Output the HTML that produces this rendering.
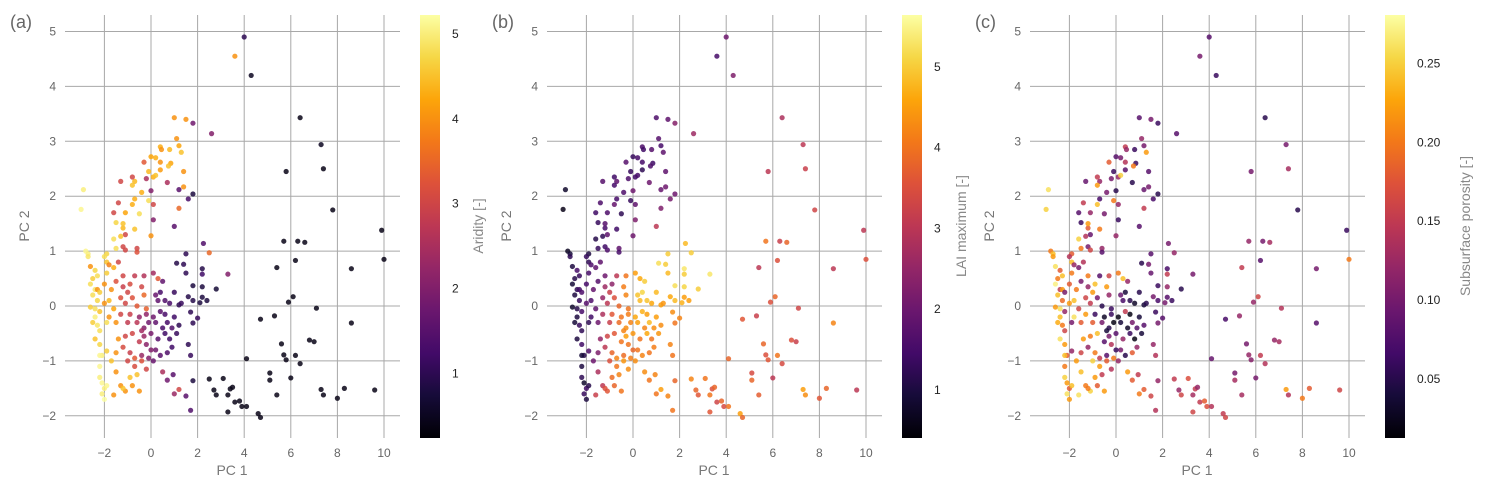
<!DOCTYPE html>
<html><head><meta charset="utf-8"><style>
body{margin:0;background:#fff;width:1488px;height:491px;overflow:hidden}
svg{display:block;font-family:"Liberation Sans",sans-serif}
</style></head><body>
<svg id="fig" width="1488" height="491"></svg>
<script>
// ---- data (PC scores shared by all panels) ----
const pc1 = [4.0,3.6,4.3,6.4,7.3,7.4,5.8,7.8,9.9,10.0,5.7,6.3,6.6,6.2,5.4,8.6,6.1,5.9,7.1,4.7,5.3,8.6,6.8,7.0,5.6,5.7,6.2,5.8,6.4,4.1,5.1,5.1,6.0,2.5,3.1,2.7,2.8,3.3,3.4,3.5,7.3,8.3,9.6,7.4,8.0,5.4,3.6,3.8,3.9,4.1,3.3,4.6,4.7,
1.5,1.1,1.4,2.2,2.2,1.5,1.8,2.2,2.8,1.6,2.2,1.8,2.1,2.4,1.2,1.3,1.7,2.0,1.8,1.6,1.7,1.8,1.7,1.5,1.2,1.0,0.5,0.7,0.95,2.25,2.5,3.3,2.6,1.8,1.5,1.0,1.1,1.8,1.6,1.2,1.0,1.2,
0.2,0.0,0.4,0.45,0.8,1.2,1.3,0.4,0.85,0.75,0.4,-0.3,0.1,-0.1,0.2,1.4,1.4,0.7,-0.2,-0.7,-0.8,-1.3,-0.8,0.0,0.1,-0.1,-0.4,-0.7,-1.4,-0.8,-1.6,-1.1,-0.5,-1.5,-1.2,-1.2,0.1,-0.7,-1.1,-1.3,0.0,-1.6,-1.5,-1.9,-1.2,-1.1,-0.6,-0.6,
-2.9,-3.0,-2.8,-2.7,-2.7,-2.6,-2.4,-2.3,-2.5,-2.6,-2.4,-2.3,-2.2,-2.5,-2.3,-2.6,-2.4,-2.2,-2.4,-2.3,-2.5,-2.2,-2.4,-2.2,-2.1,-2.2,-1.9,-2.2,-2.2,-2.1,-2.0,-1.9,-2.0,-2.1,-2.0,-1.9,-1.9,-1.6,-1.7,-2.0,-2.0,-1.8,-1.7,-1.8,-1.5,-1.4,-1.5,-1.5,-1.3,-1.1,-0.8,-0.5,-1.6,-1.2,-0.6,-0.9,-1.9,-1.8,-1.6,
-1.4,-1.2,-1.5,-0.9,-1.2,-0.7,-0.3,0.1,-1.0,-0.8,-1.1,-0.6,-0.3,-0.2,-1.3,-1.0,-0.8,-1.2,-0.9,-0.7,-1.0,-0.4,-0.7,-0.2,-0.5,-1.1,-0.6,-0.4,-1.3,-0.9,0.3,
-0.5,-0.3,-0.1,0.0,0.2,0.3,0.5,0.6,0.7,0.8,0.9,1.0,0.4,0.6,0.8,0.3,0.5,0.4,0.2,0.0,-0.2,-0.4,-0.1,0.1,0.4,-0.3,0.1,-0.2,1.1,1.2,0.9,0.7,1.0,0.2,-0.4,0.6];
const pc2 = [4.9,4.55,4.2,3.43,2.94,2.5,2.45,1.75,1.38,0.85,1.18,1.18,1.16,0.83,0.7,0.68,0.17,0.07,-0.04,-0.24,-0.18,-0.31,-0.62,-0.65,-0.69,-0.89,-0.9,-0.98,-1.05,-0.96,-1.22,-1.35,-1.31,-1.33,-1.32,-1.53,-1.62,-1.62,-1.51,-1.48,-1.52,-1.5,-1.53,-1.62,-1.68,-1.62,-1.75,-1.73,-1.83,-1.83,-1.93,-1.96,-2.03,
0.95,0.78,0.76,0.68,0.58,0.6,0.37,0.35,0.31,0.17,0.16,0.1,0.06,0.1,0.02,0.05,-0.11,-0.22,-0.31,-0.7,-0.9,-1.36,-1.9,-1.64,-1.52,-1.6,-1.2,-1.35,-1.25,1.14,0.97,0.58,3.14,3.33,3.4,3.43,3.05,2.04,1.95,2.12,1.45,1.78,
2.7,2.72,2.9,2.85,2.85,2.92,2.8,2.62,2.6,2.55,2.48,2.62,2.35,2.45,2.38,2.45,2.17,2.25,2.32,2.27,2.2,2.27,2.35,2.1,1.85,1.92,2.07,1.95,1.88,1.85,1.7,1.7,1.68,1.52,1.42,1.5,1.57,1.4,1.3,1.27,1.28,1.22,1.05,0.95,1.08,1.02,1.05,0.98,
2.12,1.76,1.0,0.95,0.9,0.72,0.65,0.55,0.5,0.4,0.3,0.3,0.25,0.2,0.1,-0.02,-0.05,-0.1,-0.2,-0.35,-0.3,-0.45,-0.6,-0.7,-0.9,-0.9,-0.82,-1.1,-1.3,-1.4,-1.5,-1.45,-1.7,-1.6,0.9,0.6,0.8,0.7,-1.0,0.4,0.05,0.75,0.3,-0.2,-0.3,-0.6,-0.85,-1.2,-1.45,-1.55,-1.45,-1.55,-1.62,-1.5,-1.25,-1.3,-0.3,0.1,-0.05,
0.8,0.55,0.45,0.4,0.35,0.55,0.55,0.6,0.25,0.15,0.05,0.0,0.2,-0.05,-0.15,-0.3,-0.5,-0.75,-0.85,-0.95,-1.0,-1.0,-1.1,-1.15,-0.65,-0.55,-0.3,0.35,0.15,-0.15,0.5,
-0.2,-0.4,-0.3,-0.5,-0.3,-0.6,-0.4,-0.5,-0.3,-0.6,-0.4,-0.2,-0.1,0.1,0.05,0.1,0.45,0.25,-0.8,-0.8,-0.7,-0.9,-0.95,-1.0,-0.9,-0.55,-0.2,-0.15,-0.5,-0.35,-0.75,-0.85,0.25,0.2,-0.45,-0.15];
const aridity = [1.0,4.0,0.5,0.4,0.5,0.4,0.4,0.4,0.4,0.4,0.4,0.4,0.4,0.4,0.4,0.4,0.4,0.4,0.4,0.4,0.4,0.4,0.4,0.4,0.4,0.4,0.4,0.4,0.4,0.4,0.4,0.4,0.4,0.4,0.4,0.4,0.4,0.4,0.4,0.4,0.4,0.4,0.4,0.4,0.4,0.4,0.4,0.4,0.4,0.4,0.4,0.4,0.4,
1.0,0.9,1.0,0.9,1.2,1.0,0.8,0.8,0.7,0.9,0.8,0.9,0.8,0.8,1.0,1.1,1.0,1.1,1.0,1.0,1.1,0.8,1.4,1.5,3.0,2.3,2.5,1.8,1.5,1.4,3.5,2.0,2.0,1.8,4.0,4.0,4.0,0.8,1.3,1.5,1.5,3.5,
4.3,4.2,4.3,4.0,4.4,4.2,4.5,4.0,4.2,4.5,4.1,3.3,4.3,4.4,4.5,4.0,4.0,2.5,2.5,4.4,4.5,3.0,3.0,2.0,3.0,4.8,4.3,4.3,3.0,4.3,3.0,4.2,4.8,4.7,4.4,4.5,2.0,4.5,3.0,4.5,4.0,4.8,4.8,4.7,3.0,3.0,3.0,3.2,
5.0,5.1,5.1,5.0,4.9,4.0,4.7,4.8,4.6,4.8,4.9,4.0,4.6,4.8,4.7,4.6,4.8,4.5,5.0,4.9,4.6,4.8,4.5,4.7,5.0,5.1,4.6,5.1,5.0,5.1,5.0,5.1,5.2,5.0,4.8,4.6,4.5,4.3,4.5,4.0,4.0,3.8,4.0,4.0,4.0,4.0,4.0,4.0,4.0,4.0,4.0,4.0,4.0,4.5,4.5,4.5,4.8,4.4,4.2,
3.0,3.0,3.2,3.1,2.9,2.8,2.6,2.4,3.0,3.2,3.0,3.3,3.5,3.4,3.0,2.8,3.0,3.1,2.9,3.3,3.0,3.2,3.1,3.0,2.8,3.0,2.7,3.0,3.2,2.9,3.3,
2.2,2.0,1.8,1.9,1.6,1.5,1.3,1.2,1.3,1.2,1.4,1.2,1.5,1.4,1.3,1.6,1.6,1.3,1.8,2.0,2.1,2.3,2.0,1.7,1.5,2.3,1.8,2.2,1.1,1.0,1.2,1.4,1.1,1.7,2.4,1.3];
const lai = [2.0,1.5,2.2,2.8,3.0,3.2,3.0,3.3,3.0,3.5,4.0,3.2,3.8,3.5,3.0,3.0,3.8,3.5,3.3,3.6,3.2,4.2,3.5,3.2,3.8,3.5,4.0,3.6,3.4,3.8,3.4,3.8,3.0,4.2,4.0,3.8,3.6,4.0,3.5,3.8,4.5,3.8,3.0,4.3,3.6,3.7,3.3,3.8,3.4,4.0,3.6,4.5,3.8,
5.0,5.2,5.0,5.3,5.0,4.8,5.2,5.1,5.0,4.6,4.5,4.8,4.7,4.5,4.5,4.4,4.3,4.2,4.0,4.2,4.0,3.8,4.0,4.2,4.5,4.0,4.3,4.0,4.2,4.8,5.0,5.3,2.6,2.3,1.8,1.6,1.7,2.0,2.1,1.9,3.0,2.2,
1.5,1.3,1.6,1.4,1.7,1.5,1.8,1.5,1.4,1.6,1.2,1.7,1.4,1.3,1.5,1.8,2.0,2.0,1.6,1.8,1.5,1.7,1.4,2.0,1.8,1.3,1.6,1.5,1.6,1.9,1.4,1.6,1.2,1.3,1.5,1.7,2.2,1.4,1.8,1.2,2.0,1.1,1.3,1.0,1.4,1.6,1.8,1.5,
0.8,0.6,0.7,0.9,1.2,1.0,1.5,1.3,1.1,0.9,1.2,1.4,1.6,1.0,1.3,0.8,1.1,1.5,1.0,1.3,0.9,1.2,1.0,1.4,1.1,0.9,1.6,1.0,1.2,0.8,1.4,1.1,1.0,1.3,1.3,1.5,1.2,1.8,2.0,1.5,1.7,1.6,1.9,1.4,2.0,2.5,2.2,2.8,3.0,3.6,3.8,4.0,3.2,3.5,4.2,3.9,1.2,1.6,1.8,
1.8,2.0,1.7,2.4,2.6,3.0,4.0,4.5,3.2,3.5,3.0,3.8,4.2,4.0,2.8,3.2,3.6,3.0,3.8,4.2,3.5,4.4,4.0,4.3,4.0,3.3,3.9,4.1,2.5,3.6,4.6,
4.0,4.3,4.2,4.4,4.5,4.0,4.2,4.6,4.8,4.0,4.3,4.5,4.7,4.9,4.6,4.8,5.0,5.1,4.0,3.8,4.0,3.9,4.1,4.3,4.2,4.5,4.6,4.1,4.4,4.3,4.1,4.0,4.8,4.9,4.2,4.5];
const porosity = [0.08,0.10,0.06,0.05,0.10,0.13,0.10,0.05,0.06,0.20,0.12,0.10,0.13,0.08,0.15,0.10,0.16,0.12,0.14,0.07,0.12,0.08,0.12,0.13,0.10,0.12,0.15,0.11,0.14,0.09,0.10,0.13,0.10,0.15,0.17,0.12,0.16,0.13,0.15,0.12,0.22,0.18,0.16,0.14,0.20,0.13,0.15,0.18,0.17,0.14,0.16,0.15,0.16,
0.08,0.05,0.10,0.07,0.15,0.09,0.06,0.12,0.05,0.10,0.08,0.07,0.10,0.06,0.04,0.05,0.06,0.08,0.10,0.12,0.14,0.12,0.14,0.16,0.18,0.20,0.22,0.18,0.15,0.10,0.12,0.10,0.08,0.06,0.10,0.08,0.12,0.05,0.07,0.09,0.08,0.15,
0.10,0.08,0.15,0.12,0.06,0.10,0.22,0.14,0.06,0.20,0.08,0.18,0.12,0.06,0.25,0.08,0.10,0.05,0.10,0.12,0.22,0.09,0.15,0.05,0.12,0.20,0.10,0.07,0.15,0.24,0.08,0.12,0.10,0.06,0.18,0.22,0.06,0.20,0.09,0.14,0.12,0.25,0.20,0.18,0.10,0.16,0.12,0.08,
0.26,0.25,0.20,0.24,0.22,0.26,0.18,0.24,0.20,0.27,0.15,0.22,0.10,0.24,0.19,0.22,0.26,0.12,0.24,0.20,0.23,0.16,0.26,0.22,0.18,0.24,0.12,0.20,0.25,0.22,0.18,0.24,0.22,0.26,0.14,0.20,0.24,0.10,0.22,0.18,0.22,0.12,0.20,0.26,0.18,0.22,0.16,0.24,0.20,0.25,0.18,0.22,0.26,0.20,0.15,0.22,0.10,0.24,0.16,
0.14,0.20,0.10,0.24,0.12,0.08,0.16,0.20,0.22,0.10,0.15,0.05,0.12,0.06,0.22,0.18,0.24,0.12,0.20,0.15,0.25,0.18,0.22,0.14,0.08,0.20,0.10,0.22,0.16,0.06,0.24,
0.03,0.05,0.02,0.08,0.04,0.12,0.03,0.06,0.10,0.02,0.08,0.04,0.15,0.05,0.03,0.07,0.12,0.04,0.10,0.06,0.14,0.08,0.20,0.12,0.05,0.10,0.02,0.06,0.04,0.08,0.12,0.18,0.05,0.09,0.04,0.02];
const xTicks = [-2,0,2,4,6,8,10];
const yTicks = [-2,-1,0,1,2,3,4,5];
const aridityTicks = [1,2,3,4,5];
const laiTicks = [1,2,3,4,5];
const porosityTicks = [0.05,0.10,0.15,0.20,0.25];

// ---- rendering ----
const NS = "http://www.w3.org/2000/svg";
const svg = document.getElementById('fig');
function mk(tag, attrs, parent, text){
  const e = document.createElementNS(NS, tag);
  for (const k in attrs) e.setAttribute(k, attrs[k]);
  if (text !== undefined) e.textContent = text;
  (parent || svg).appendChild(e);
  return e;
}
const inf = [[0,0,0,4],[0.1,22,11,57],[0.2,66,10,104],[0.3,106,23,110],[0.4,147,38,103],[0.5,188,55,84],[0.6,221,81,58],[0.7,243,120,25],[0.8,252,165,10],[0.9,246,215,70],[1,252,255,164]];
function inferno(t){
  t = Math.max(0, Math.min(1, t));
  for (let i=1;i<inf.length;i++){
    if (t <= inf[i][0]){
      const a = inf[i-1], b = inf[i], f = (t-a[0])/(b[0]-a[0]);
      return `rgb(${Math.round(a[1]+f*(b[1]-a[1]))},${Math.round(a[2]+f*(b[2]-a[2]))},${Math.round(a[3]+f*(b[3]-a[3]))})`;
    }
  }
  return 'rgb(252,255,164)';
}
const defs = mk('defs', {});
const grad = mk('linearGradient', {id:'infg', x1:0, y1:1, x2:0, y2:0}, defs);
inf.forEach(s => mk('stop', {offset: s[0], 'stop-color': `rgb(${s[1]},${s[2]},${s[3]})`}, grad));

const panels = [
  {key:'a', label:'(a)', dx:0, values:aridity, vmin:0.23, vmax:5.21, ticks:aridityTicks, fmt:v=>String(v), cbLabel:'Aridity  [-]', cbLabelX:483},
  {key:'b', label:'(b)', dx:482, values:lai, vmin:0.39, vmax:5.63, ticks:laiTicks, fmt:v=>String(v), cbLabel:'LAI maximum  [-]', cbLabelX:966},
  {key:'c', label:'(c)', dx:965, values:porosity, vmin:0.012, vmax:0.28, ticks:porosityTicks, fmt:v=>v.toFixed(2), cbLabel:'Subsurface porosity [-]', cbLabelX:1470}
];
const TOP = 15, BOT = 438;
panels.forEach(p => {
  const g = mk('g', {});
  
  
  const xs = v => p.dx + 151 + v*23.3;
  const ys = v => 306 - v*54.9;
  xTicks.forEach(t => {
    const l = mk('line', {x1:xs(t), x2:xs(t), y1:TOP, y2:BOT, stroke:'#a8a8a8', 'stroke-width':1}, g);
     
    const tx = mk('text', {x:xs(t), y:457, 'text-anchor':'middle', 'font-size':12, fill:'#666'}, g, t < 0 ? '\u2212' + (-t) : String(t));
     
  });
  yTicks.forEach(t => {
    const l = mk('line', {x1:p.dx+65, x2:p.dx+400, y1:ys(t), y2:ys(t), stroke:'#a8a8a8', 'stroke-width':1}, g);
     
    const tx = mk('text', {x:p.dx+56, y:ys(t)+4, 'text-anchor':'end', 'font-size':12, fill:'#666'}, g, t < 0 ? '\u2212' + (-t) : String(t));
     
  });
  const pts = mk('g', {}, g);
   
  for (let i=0;i<pc1.length;i++){
    const c = mk('circle', {cx:xs(pc1[i]), cy:ys(pc2[i]), r:2.6, fill:inferno((p.values[i]-p.vmin)/(p.vmax-p.vmin)), 'fill-opacity':0.85}, pts);
     
  }
  const xt = mk('text', {x:p.dx+232, y:475, 'text-anchor':'middle', 'font-size':14, fill:'#777'}, g, 'PC 1');
   
  const yt = mk('text', {x:0, y:0, transform:`translate(${p.dx+29},226) rotate(-90)`, 'text-anchor':'middle', 'font-size':14, fill:'#777'}, g, 'PC 2');
   
  const pl = mk('text', {x:p.dx+10, y:28, 'font-size':18, fill:'#666'}, g, p.label);
   
  const cbx = p.dx + 420;
  const cb = mk('rect', {x:cbx, y:TOP, width:20, height:BOT-TOP, fill:'url(#infg)'}, g);
   
  const cs = v => BOT - (v - p.vmin)/(p.vmax - p.vmin)*(BOT-TOP);
  p.ticks.forEach(t => {
    const tx = mk('text', {x:cbx+32, y:cs(t)+5, 'font-size':12, fill:'#222'}, g, p.fmt(t));
     
  });
  const cl = mk('text', {x:0, y:0, transform:`translate(${p.cbLabelX},226) rotate(-90)`, 'text-anchor':'middle', 'font-size':14, fill:'#888'}, g, p.cbLabel);
   
});
</script>
</body></html>
